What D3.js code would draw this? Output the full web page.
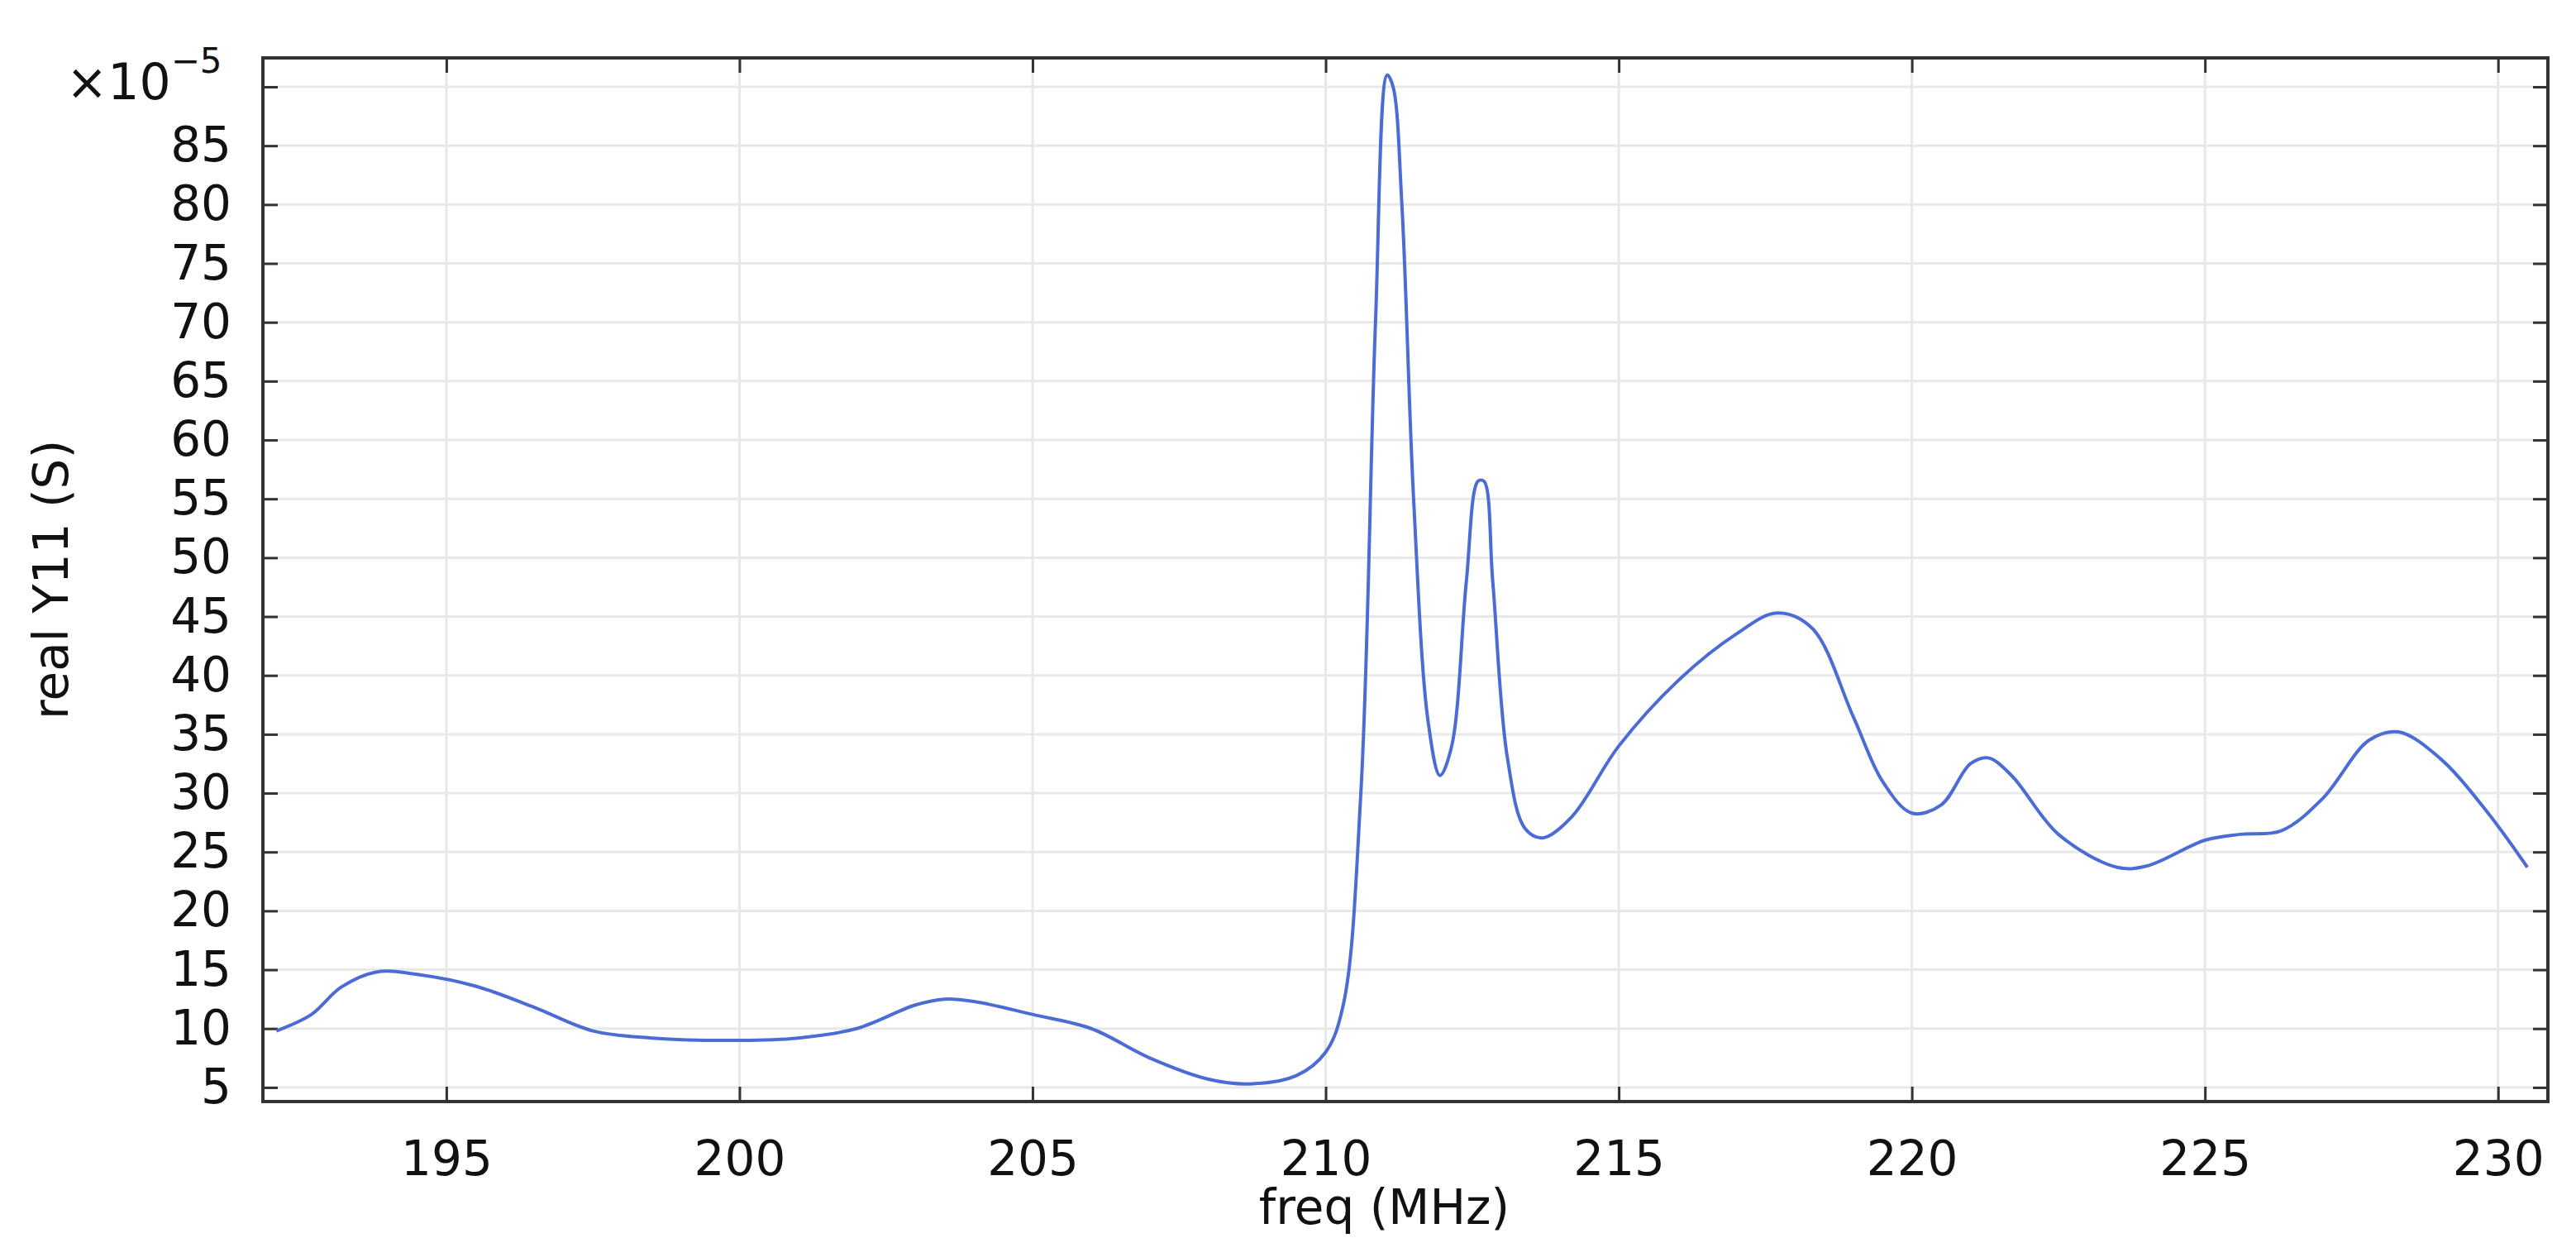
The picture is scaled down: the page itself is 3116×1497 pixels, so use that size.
<!DOCTYPE html>
<html><head><meta charset="utf-8">
<script src="https://cdn.jsdelivr.net/npm/d3@7"></script>
<style>body{margin:0;background:#fff}text{font-family:"DejaVu Sans",sans-serif}</style>
</head><body>
<svg id="chart" width="3116" height="1497"></svg>
<script>
const freq = [192.1,192.7,193.2,193.8,194.5,195.5,196.5,197.5,198.5,200,201,202,203,203.5,204,205,206,207,208,208.7,209.5,210,210.3,210.6,210.85,211.05,211.15,211.3,211.5,211.75,211.95,212.15,212.4,212.6,212.7,212.85,213.1,213.4,213.7,214.2,215,216,217,217.7,218.3,219,219.5,220,220.5,221,221.3,221.7,222.5,223.5,224,225,225.6,226.3,227,227.8,228.3,229,229.8,230.5];
const realY11 = [9.8,11.2,13.5,14.8,14.6,13.6,11.8,9.8,9.2,9.0,9.2,10,12,12.5,12.3,11.2,10,7.5,5.7,5.3,6,8,12,30,70,91,90,80,55,36,31.5,34,48,56.5,56.5,48,33,27,26.2,28,34,39.5,43.5,45.3,44,36.5,31,28.3,29,32.5,33,31.5,26.5,23.7,23.8,26,26.5,26.8,29.5,34.5,35.2,33,28.5,23.7];
const xTicks = [195,200,205,210,215,220,225,230];
const yTicks = [5,10,15,20,25,30,35,40,45,50,55,60,65,70,75,80,85,90];

const L = 318, R = 3082, T = 70, B = 1332;
const svg = d3.select("#chart");
const x = d3.scaleLinear().domain([191.87, 230.85]).range([L, R]);
const y = d3.scaleLinear().domain([3.8, 92.46]).range([B, T]);

// grid
svg.append("g").selectAll("line").data(xTicks).join("line")
  .attr("x1", d => x(d)).attr("x2", d => x(d)).attr("y1", T).attr("y2", B)
  .attr("stroke", "#e8e8e8").attr("stroke-width", 3);
svg.append("g").selectAll("line").data(yTicks).join("line")
  .attr("y1", d => y(d)).attr("y2", d => y(d)).attr("x1", L).attr("x2", R)
  .attr("stroke", "#e8e8e8").attr("stroke-width", 3);

// axes with inward ticks
const fmt = d3.format("d");
const ax = (axis, tr) => svg.append("g").attr("transform", tr).call(axis)
  .call(s => s.select(".domain").remove())
  .call(s => s.selectAll(".tick line").attr("stroke", "#333").attr("stroke-width", 3))
  .call(s => s.selectAll("text").attr("font-size", 58).attr("fill", "#111"));
ax(d3.axisBottom(x).tickValues(xTicks).tickFormat(fmt).tickSize(-18).tickPadding(48), `translate(0,${B})`);
ax(d3.axisTop(x).tickValues(xTicks).tickFormat("").tickSize(-18), `translate(0,${T})`);
ax(d3.axisLeft(y).tickValues(yTicks.slice(0, -1)).tickFormat(fmt).tickSize(-18).tickPadding(38), `translate(${L},0)`);
ax(d3.axisLeft(y).tickValues([90]).tickFormat("").tickSize(-18), `translate(${L},0)`);
ax(d3.axisRight(y).tickValues(yTicks).tickFormat("").tickSize(-18), `translate(${R},0)`);

svg.append("rect").attr("x", L).attr("y", T).attr("width", R - L).attr("height", B - T)
  .attr("fill", "none").attr("stroke", "#333").attr("stroke-width", 4);

// curve
svg.append("path").datum(freq.map((f, i) => [f, realY11[i]]))
  .attr("d", d3.line().x(d => x(d[0])).y(d => y(d[1])).curve(d3.curveCatmullRom.alpha(0.5)))
  .attr("fill", "none").attr("stroke", "#4a6cd4").attr("stroke-width", 4);

// labels
const ex = svg.append("text").attr("x", 80).attr("y", 120).attr("font-size", 60).attr("fill", "#111");
ex.append("tspan").text("×10");
ex.append("tspan").attr("dy", -32).attr("font-size", 42).text("−5");
svg.append("text").attr("x", x(211)).attr("y", 1480).attr("text-anchor", "middle")
  .attr("font-size", 58).attr("fill", "#111").text("freq (MHz)");
svg.append("text").attr("transform", `translate(82,${(T + B) / 2}) rotate(-90)`)
  .attr("text-anchor", "middle").attr("font-size", 58).attr("fill", "#111").text("real Y11 (S)");
</script>
</body></html>
